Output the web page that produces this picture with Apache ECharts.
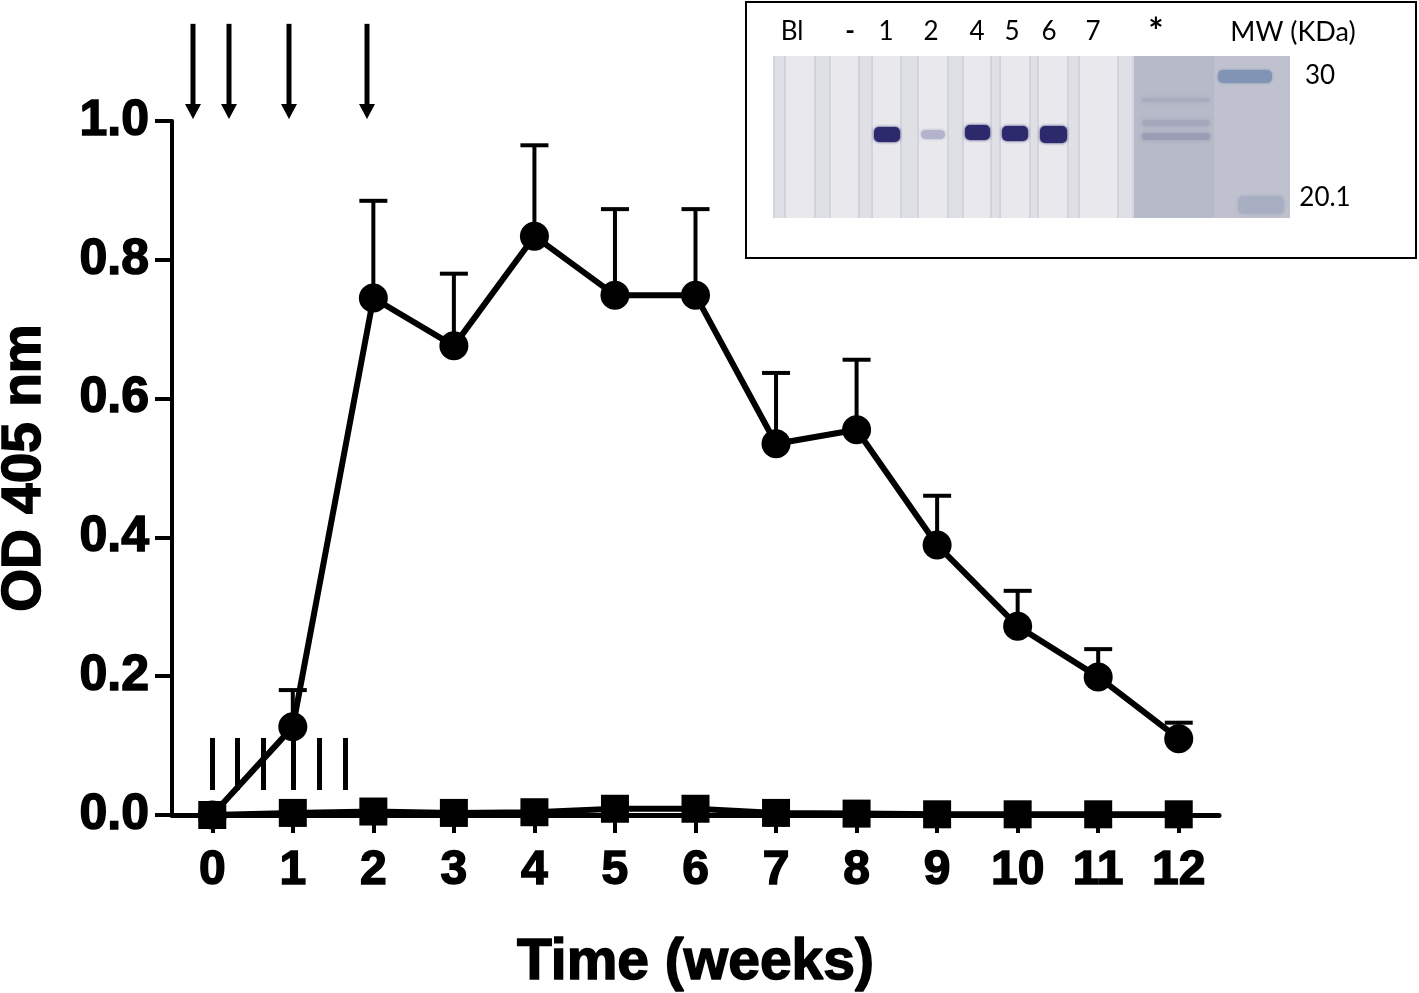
<!DOCTYPE html>
<html><head><meta charset="utf-8">
<script src="https://cdn.jsdelivr.net/npm/echarts@6/dist/echarts.min.js"></script>
<style>html,body{margin:0;padding:0;background:#fff}#c{width:1419px;height:993px}</style>
</head><body><div id="c"></div>
<script>
// ---- data ----
const weeks = [0,1,2,3,4,5,6,7,8,9,10,11,12];
const immunizedMean  = [0,0.127,0.745,0.676,0.834,0.749,0.749,0.535,0.555,0.389,0.272,0.199,0.110];
const immunizedUpper = [null,0.180,0.885,0.780,0.965,0.873,0.873,0.637,0.656,0.460,0.323,0.239,0.133];
const controlMean    = [0,0.003,0.005,0.003,0.004,0.009,0.009,0.003,0.002,0.001,0.001,0.001,0.001];
const xTickLabels = ['0','1','2','3','4','5','6','7','8','9','10','11','12'];
const yTicks = [0,0.2,0.4,0.6,0.8,1.0];
const arrowWeeks = [-0.24,0.21,0.95,1.92];
const arrowRange = [1.140,1.003];
const doseWeeks = [0,0.31,0.63,1.0,1.33,1.65];
const doseRange = [0.036,0.111];
const laneLabels = ['Bl','-','1','2','4','5','6','7','*'];
const mwLabels = ['30','20.1'];

const FONT = '"Liberation Sans", Arial, sans-serif';
const LFONT = 'Lato, "Open Sans", sans-serif';
const chart = echarts.init(document.getElementById('c'), null, {renderer:'canvas'});

const errData = weeks.map((w,i)=>[w, immunizedMean[i], immunizedUpper[i]]).filter(d=>d[2]!=null);

chart.setOption({
  animation:false,
  backgroundColor:'#fff',
  grid:{left:172, right:200, top:121, bottom:178, outerBoundsMode:'none', containLabel:false},
  xAxis:{
    type:'value', min:-0.5, max:12.5,
    name:'Time (weeks)', nameLocation:'middle', nameGap:120,
    nameTextStyle:{fontFamily:FONT, fontWeight:'bold', fontSize:57, color:'#000', textBorderColor:'#000', textBorderWidth:1.5},
    axisLine:{onZero:true, lineStyle:{color:'#000', width:5}},
    axisTick:{show:true, customValues:weeks, length:18, lineStyle:{color:'#000', width:4}},
    axisLabel:{customValues:weeks, formatter:v=>xTickLabels[weeks.indexOf(v)], margin:32,
      fontFamily:FONT, fontWeight:'bold', fontSize:48, color:'#000', textBorderColor:'#000', textBorderWidth:1.5},
    splitLine:{show:false}
  },
  yAxis:{
    type:'value', min:0, max:1, interval:0.2,
    name:'OD 405 nm', nameLocation:'middle', nameGap:120, nameRotate:90,
    nameTextStyle:{fontFamily:FONT, fontWeight:'bold', fontSize:55, color:'#000', textBorderColor:'#000', textBorderWidth:1.5},
    axisLine:{show:true, onZero:false, lineStyle:{color:'#000', width:4}},
    axisTick:{show:true, length:17, lineStyle:{color:'#000', width:4}},
    axisLabel:{formatter:v=>v.toFixed(1), margin:23,
      fontFamily:FONT, fontWeight:'bold', fontSize:50, color:'#000', textBorderColor:'#000', textBorderWidth:1.5},
    splitLine:{show:false}
  },
  series:[
    {
      type:'custom', name:'err', z:2,
      renderItem:(params, api)=>{
        const x=api.value(0), m=api.value(1), t=api.value(2);
        const p0=api.coord([x,m]), p1=api.coord([x,t]);
        return {type:'group', children:[
          {type:'line', shape:{x1:p0[0],y1:p0[1],x2:p1[0],y2:p1[1]}, style:{stroke:'#000', lineWidth:4}},
          {type:'line', shape:{x1:p1[0]-14,y1:p1[1],x2:p1[0]+14,y2:p1[1]}, style:{stroke:'#000', lineWidth:4}}
        ]};
      },
      encode:{x:0, y:[1,2]},
      data:errData
    },
    {
      type:'line', name:'immunized', z:3,
      data:weeks.map((w,i)=>[w, immunizedMean[i]]),
      symbol:'circle', symbolSize:29,
      lineStyle:{color:'#000', width:6},
      itemStyle:{color:'#000', borderColor:'#000', borderWidth:0},
      emphasis:{disabled:true}
    },
    {
      type:'line', name:'control', z:4,
      data:weeks.map((w,i)=>[w, controlMean[i]]),
      symbol:'rect', symbolSize:28,
      lineStyle:{color:'#000', width:6},
      itemStyle:{color:'#000'},
      emphasis:{disabled:true},
      markLine:{
        silent:true, symbol:['none','none'], label:{show:false},
        lineStyle:{color:'#000', width:5, type:'solid'},
        emphasis:{disabled:true},
        data:doseWeeks.map(w=>[{coord:[w,doseRange[0]]},{coord:[w,doseRange[1]]}])
      }
    }
  ]
});

// ---- annotations & inset ----
const g = [];
arrowWeeks.forEach(w=>{
  const top = chart.convertToPixel({gridIndex:0}, [w, arrowRange[0]]);
  const tip = chart.convertToPixel({gridIndex:0}, [w, arrowRange[1]]);
  const x = Math.round(top[0]);
  g.push({type:'rect', shape:{x:x-2.5, y:top[1], width:5, height:tip[1]-top[1]-14}, style:{fill:'#000'}});
  g.push({type:'polygon', shape:{points:[[x-8,tip[1]-15],[x+8,tip[1]-15],[x,tip[1]]]}, style:{fill:'#000'}});
});

// inset frame
g.push({type:'rect', shape:{x:746, y:2, width:670, height:256}, style:{fill:'#fff', stroke:'#000', lineWidth:2}, z:10});
// gel background
g.push({type:'rect', shape:{x:773, y:56, width:361, height:162}, style:{fill:'#d3d3dd'}, z:11});
g.push({type:'rect', shape:{x:1134, y:56, width:156, height:162}, style:{fill:'#b7bac8'}, z:11});
g.push({type:'rect', shape:{x:1214, y:56, width:76, height:162}, style:{fill:'#bfc2ce'}, z:11});
// light strips
[[786,814],[831,858],[873,900],[919,947],[964,990],[1001,1029],[1039,1067],[1080,1117]].forEach(s=>{
  g.push({type:'rect', shape:{x:s[0], y:56, width:s[1]-s[0], height:162}, style:{fill:'#e8e8ed'}, z:12});
});
// separator mid tones
[[773,786],[814,831],[858,873],[900,919],[947,964],[990,1001],[1029,1039],[1067,1080],[1117,1134]].forEach(s=>{
  g.push({type:'rect', shape:{x:s[0]+2, y:56, width:s[1]-s[0]-4, height:162}, style:{fill:'#dfdfe6'}, z:12});
});
// bands
const band=(x,y,w,h,c,blur)=>g.push({type:'rect', shape:{x:x,y:y,width:w,height:h,r:5}, style:{fill:c, shadowBlur:blur||3, shadowColor:c}, z:13});
band(874,127,26,15,'#2c2a6c');
band(921,130,24,9,'#b3b3cc');
band(965,125,25,15,'#2c2a6c');
band(1002,126,26,15,'#2c2a6c');
band(1040,126,27,17,'#2c2a6c');
band(1142,98,68,4,'#a9acbe',4);
band(1142,120,68,6,'#a5a8bb',4);
band(1142,133,68,7,'#9a9eb5',4);
band(1218,70,54,13,'#8194b6',3);
band(1238,196,46,18,'#a9afc2',4);

// lane labels
const laneX = [792,850,886,931,977,1012,1049,1093,1156];
laneLabels.forEach((t,i)=>{
  g.push({type:'text', x:laneX[i], y:t==='*'?32:32, z:14,
    style:{text:t, fontFamily:LFONT, fontSize:t==='*'?36:26, fontWeight:t==='*'||t==='-'?'bold':'normal', fill:'#000', align:'center', verticalAlign:'middle'}});
});
g.push({type:'text', x:1293, y:32, z:14, style:{text:'MW (KDa)', fontFamily:LFONT, fontSize:27, fill:'#000', align:'center', verticalAlign:'middle'}});
g.push({type:'text', x:1320, y:76, z:14, style:{text:mwLabels[0], fontFamily:LFONT, fontSize:26, fill:'#000', align:'center', verticalAlign:'middle'}});
g.push({type:'text', x:1325, y:198, z:14, style:{text:mwLabels[1], fontFamily:LFONT, fontSize:26, fill:'#000', align:'center', verticalAlign:'middle'}});

chart.setOption({graphic:g});
</script>
</body></html>
